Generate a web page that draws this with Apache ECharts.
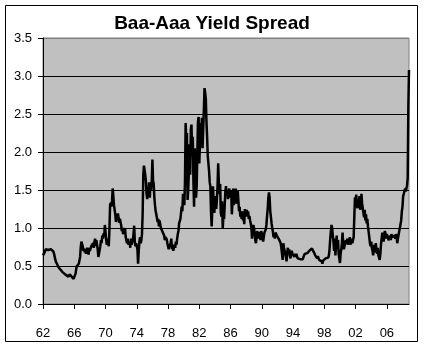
<!DOCTYPE html>
<html>
<head>
<meta charset="utf-8">
<script src="https://cdn.jsdelivr.net/npm/echarts@6/dist/echarts.min.js"></script>
<style>html,body{margin:0;padding:0;background:#fff;}#c{width:426px;height:344px;}</style>
</head>
<body>
<div id="c"></div>
<script>
// Monthly Baa-Aaa spread, Jan 1962 .. Nov 2008
const startYear = 1962;
const spread = [
// 1962
0.64,0.66,0.65,0.69,0.72,0.74,0.71,0.72,0.71,0.73,0.71,0.70,
// 1963
0.72,0.72,0.71,0.70,0.69,0.66,0.62,0.58,0.55,0.53,0.52,0.50,
// 1964
0.48,0.47,0.46,0.45,0.44,0.43,0.42,0.41,0.40,0.40,0.39,0.38,
// 1965
0.38,0.37,0.37,0.36,0.37,0.39,0.41,0.38,0.36,0.35,0.34,0.33,
// 1966
0.32,0.34,0.40,0.46,0.50,0.51,0.52,0.53,0.55,0.62,0.75,0.82,
// 1967
0.80,0.76,0.70,0.73,0.68,0.72,0.66,0.71,0.74,0.69,0.65,0.74,
// 1968
0.70,0.72,0.76,0.74,0.78,0.80,0.74,0.82,0.86,0.76,0.84,0.78,
// 1969
0.72,0.62,0.66,0.64,0.76,0.84,0.80,0.90,0.86,0.93,0.88,1.04,
// 1970
0.95,0.84,0.78,0.86,0.88,0.76,0.98,1.30,1.33,1.28,1.36,1.52,
// 1971
1.42,1.30,1.24,1.18,1.08,1.12,1.10,1.19,1.14,1.07,1.12,1.10,
// 1972
1.04,0.96,1.00,0.92,0.90,0.96,1.00,0.88,0.84,0.80,0.86,0.78,
// 1973
0.76,0.82,0.74,0.86,0.78,0.80,0.84,0.92,1.03,0.82,0.76,0.80,
// 1974
0.80,0.72,0.53,0.70,0.82,0.88,0.80,0.84,0.92,1.18,1.70,1.82,
// 1975
1.84,1.70,1.62,1.45,1.38,1.55,1.48,1.60,1.40,1.58,1.50,1.62,
// 1976
1.90,1.62,1.58,1.40,1.30,1.22,1.18,1.20,1.08,1.12,1.02,1.10,
// 1977
1.08,1.00,0.98,1.02,0.94,0.96,0.90,0.84,0.88,0.86,0.85,0.80,
// 1978
0.78,0.72,0.76,0.74,0.80,0.86,0.72,0.78,0.70,0.68,0.78,0.74,
// 1979
0.82,0.78,0.86,0.92,0.96,1.06,1.04,1.12,1.10,1.28,1.22,1.45,
// 1980
1.45,1.30,1.60,2.38,2.15,2.25,1.37,1.50,1.75,2.10,1.70,2.30,
// 1981
2.36,1.95,2.20,1.60,1.28,2.05,1.75,1.40,1.55,2.00,2.40,2.46,
// 1982
1.85,2.10,2.38,2.25,2.45,2.05,2.30,2.55,2.84,2.78,2.70,2.40,
// 1983
2.20,1.95,1.85,1.75,1.60,1.55,1.20,1.02,1.25,1.55,1.35,1.20,
// 1984
1.30,1.42,1.25,1.38,1.55,1.85,1.60,1.45,1.58,1.20,1.15,1.35,
// 1985
1.00,1.15,1.12,1.30,1.48,1.55,1.42,1.50,1.38,1.46,1.52,1.40,
// 1986
1.40,1.50,1.18,1.35,1.52,1.30,1.48,1.40,1.52,1.32,1.45,1.50,
// 1987
1.36,1.22,1.28,1.15,1.20,1.12,1.22,1.10,1.18,1.05,1.25,1.15,
// 1988
1.20,1.24,1.15,1.22,1.12,1.16,1.10,1.06,1.00,0.86,0.98,1.04,
// 1989
1.00,0.94,0.84,0.80,0.90,0.96,0.86,0.95,0.88,0.92,0.84,0.96,
// 1990
0.95,0.90,0.82,0.84,0.94,0.96,0.98,1.04,1.15,1.25,1.40,1.47,
// 1991
1.40,1.22,1.14,1.06,1.00,0.95,0.88,0.92,0.86,0.94,0.96,0.90,
// 1992
0.92,0.88,0.90,0.84,0.86,0.80,0.74,0.66,0.58,0.80,0.74,0.70,
// 1993
0.72,0.62,0.56,0.68,0.74,0.66,0.72,0.64,0.60,0.62,0.70,0.66,
// 1994
0.68,0.64,0.62,0.66,0.62,0.66,0.64,0.60,0.62,0.58,0.61,0.59,
// 1995
0.58,0.60,0.57,0.59,0.62,0.64,0.66,0.65,0.66,0.68,0.67,0.69,
// 1996
0.68,0.70,0.69,0.72,0.71,0.73,0.74,0.72,0.68,0.66,0.64,0.62,
// 1997
0.62,0.60,0.63,0.61,0.58,0.60,0.57,0.59,0.56,0.53,0.57,0.55,
// 1998
0.58,0.57,0.60,0.62,0.60,0.58,0.61,0.64,0.72,0.85,0.96,1.04,
// 1999
1.00,0.90,0.82,0.70,0.86,0.64,0.78,0.90,0.72,0.84,0.66,0.60,
// 2000
0.54,0.66,0.72,0.80,0.94,0.78,0.72,0.76,0.80,0.84,0.80,0.86,
// 2001
0.78,0.84,0.80,0.88,0.78,0.82,0.86,0.80,0.84,0.88,0.90,1.40,
// 2002
1.36,1.44,1.30,1.26,1.38,1.32,1.42,1.24,1.30,1.45,1.32,1.26,
// 2003
1.20,1.14,1.24,1.10,1.18,1.06,1.12,1.02,1.00,0.88,0.80,0.76,
// 2004
0.82,0.74,0.70,0.64,0.72,0.78,0.68,0.80,0.72,0.66,0.74,0.64,
// 2005
0.62,0.58,0.66,0.78,0.86,0.94,0.88,0.82,0.90,0.96,0.92,0.86,
// 2006
0.92,0.88,0.90,0.84,0.86,0.90,0.84,0.92,0.88,0.86,0.90,0.87,
// 2007
0.90,0.86,0.92,0.88,0.80,0.86,0.84,0.96,1.00,0.98,1.10,1.22,
// 2008 (Jan..Nov)
1.28,1.42,1.45,1.44,1.52,1.48,1.52,1.56,1.66,2.60,3.08
];
const xTickLabels = ['62','66','70','74','78','82','86','90','94','98','02','06'];
const yTicks = [0.0, 0.5, 1.0, 1.5, 2.0, 2.5, 3.0, 3.5];
const monthsPerTick = 48;

const categories = spread.map((_, i) =>
  (startYear + Math.floor(i / 12)) + '-' + String(i % 12 + 1).padStart(2, '0'));

const FONT = "'Liberation Sans', Arial, sans-serif";
const chart = echarts.init(document.getElementById('c'), null, {renderer: 'canvas'});
chart.setOption({
  backgroundColor: '#ffffff',
  animation: false,
  title: {
    text: 'Baa-Aaa Yield Spread',
    left: 207, textAlign: 'center',
    top: 9,
    textStyle: {fontFamily: FONT, fontSize: 19, fontWeight: 'bold', color: '#000'}
  },
  graphic: [{
    type: 'rect',
    shape: {x: 5.5, y: 5.5, width: 412, height: 336},
    style: {fill: 'none', stroke: '#000', lineWidth: 1},
    silent: true, z: 100
  }],
  grid: {
    left: 43, right: 17, top: 38, bottom: 40,
    show: true, backgroundColor: '#c0c0c0', borderColor: '#808080', borderWidth: 1
  },
  xAxis: {
    type: 'category',
    data: categories,
    boundaryGap: false,
    axisLine: {show: true, lineStyle: {color: '#000', width: 1}},
    axisTick: {show: true, interval: monthsPerTick - 1, length: 5, inside: false,
               lineStyle: {color: '#000'}},
    axisLabel: {
      interval: monthsPerTick - 1, margin: 23, color: '#000',
      fontFamily: FONT, fontSize: 13,
      formatter: (v, idx) => xTickLabels[Math.round(idx / monthsPerTick)] || ''
    },
    splitLine: {show: false}
  },
  yAxis: {
    type: 'value',
    min: yTicks[0], max: yTicks[yTicks.length - 1], interval: 0.5,
    axisLine: {show: true, lineStyle: {color: '#000', width: 1}},
    axisTick: {show: true, length: 5, lineStyle: {color: '#000'}},
    axisLabel: {margin: 11, color: '#000', fontFamily: FONT, fontSize: 13,
                formatter: v => v.toFixed(1)},
    splitLine: {show: true, lineStyle: {
      color: ['#000','#000','#000','#000','#000','#000','#000','#808080'], width: 1}}
  },
  series: [{
    type: 'line',
    data: spread,
    showSymbol: false,
    symbol: 'none',
    lineStyle: {color: '#000', width: 2.5},
    itemStyle: {color: '#000'},
    smooth: false
  }]
});
</script>
</body>
</html>
